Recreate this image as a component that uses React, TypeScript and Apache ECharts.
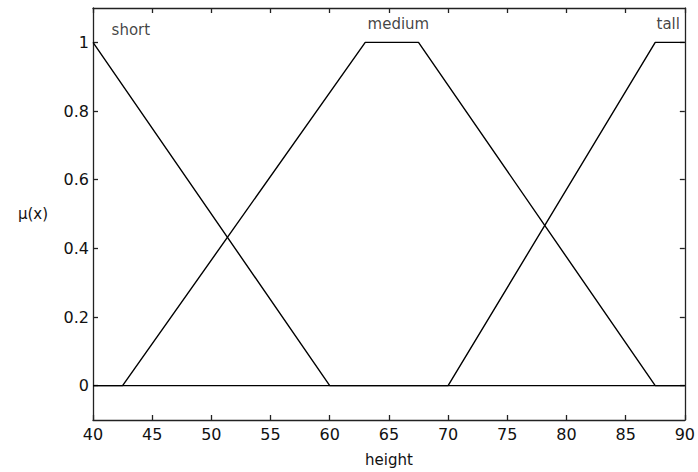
import React, { useEffect, useRef } from "react";
import * as echarts from "echarts";

// Membership functions (x = height, mu = membership degree)
const shortX = [40, 60, 90];
const shortMu = [1, 0, 0];
const mediumX = [40, 42.5, 63, 67.5, 87.5, 90];
const mediumMu = [0, 0, 1, 1, 0, 0];
const tallX = [40, 70, 87.5, 90];
const tallMu = [0, 0, 1, 1];

// Set labels and where they sit (data coordinates)
const labelNames = ["short", "medium", "tall"];
const labelX = [43.2, 65.8, 88.6];
const labelY = [1.037, 1.053, 1.053];

const yTicks = [0, 0.2, 0.4, 0.6, 0.8, 1];
const xMin = 40;
const xMax = 90;
const xStep = 5;
const yMin = -0.1;
const yMax = 1.1;

const FONT = "DejaVu Sans";
const INK = "#111";

const zip = (xs: number[], ys: number[]) => xs.map((x, i) => [x, ys[i]]);

export default function App() {
  const ref = useRef<HTMLDivElement>(null);
  useEffect(() => {
    if (!ref.current) return;
    const chart = echarts.init(ref.current, undefined, { renderer: "svg" });
    const axisLine = { show: true, onZero: false, lineStyle: { color: "#222", width: 1.3 } };
    const tick = { show: true, inside: true, length: 5, lineStyle: { color: "#222", width: 1.3 } };
    const lineSeries = (name: string, xs: number[], ys: number[]) => ({
      name,
      type: "line",
      data: zip(xs, ys),
      symbol: "none",
      lineStyle: { color: "#000", width: 1.4 },
      xAxisIndex: 0,
      yAxisIndex: 0,
    });
    chart.setOption({
      animation: false,
      backgroundColor: "#fff",
      grid: { left: 93, top: 8, right: 11, bottom: 51 },
      xAxis: [
        {
          type: "value",
          position: "bottom",
          min: xMin,
          max: xMax,
          interval: xStep,
          axisLine,
          axisTick: tick,
          splitLine: { show: false },
          axisLabel: { color: INK, fontFamily: FONT, fontSize: 16, margin: 6 },
          name: "height",
          nameLocation: "middle",
          nameGap: 32,
          nameTextStyle: { color: INK, fontFamily: FONT, fontSize: 15 },
        },
        {
          type: "value",
          position: "top",
          min: xMin,
          max: xMax,
          interval: xStep,
          axisLine,
          axisTick: tick,
          splitLine: { show: false },
          axisLabel: { show: false },
        },
      ],
      yAxis: [
        {
          type: "value",
          position: "left",
          min: yMin,
          max: yMax,
          axisLine,
          axisTick: { ...tick, customValues: yTicks },
          splitLine: { show: false },
          axisLabel: {
            color: INK,
            fontFamily: FONT,
            fontSize: 16,
            margin: 4,
            customValues: yTicks,
            formatter: (v: number) => String(Math.round(v * 10) / 10),
          },
          name: "μ(x)",
          nameLocation: "middle",
          nameRotate: 0,
          nameGap: 45,
          nameTextStyle: { color: INK, fontFamily: FONT, fontSize: 15 },
        },
        {
          type: "value",
          position: "right",
          min: yMin,
          max: yMax,
          axisLine,
          axisTick: { ...tick, customValues: yTicks },
          splitLine: { show: false },
          axisLabel: { show: false, customValues: yTicks },
        },
      ],
      series: [
        lineSeries("short", shortX, shortMu),
        lineSeries("medium", mediumX, mediumMu),
        lineSeries("tall", tallX, tallMu),
        {
          type: "scatter",
          xAxisIndex: 0,
          yAxisIndex: 0,
          symbolSize: 1,
          itemStyle: { color: "rgba(0,0,0,0)" },
          data: labelNames.map((n, i) => ({ name: n, value: [labelX[i], labelY[i]] })),
          label: {
            show: true,
            position: "inside",
            formatter: (p: any) => p.name,
            color: INK,
            fontFamily: FONT,
            fontSize: 15,
          },
        },
      ],
    });
    return () => chart.dispose();
  }, []);
  return (
    <div
      ref={ref}
      style={{ position: "fixed", left: 0, top: 0, width: 698, height: 472, background: "#fff" }}
    />
  );
}
